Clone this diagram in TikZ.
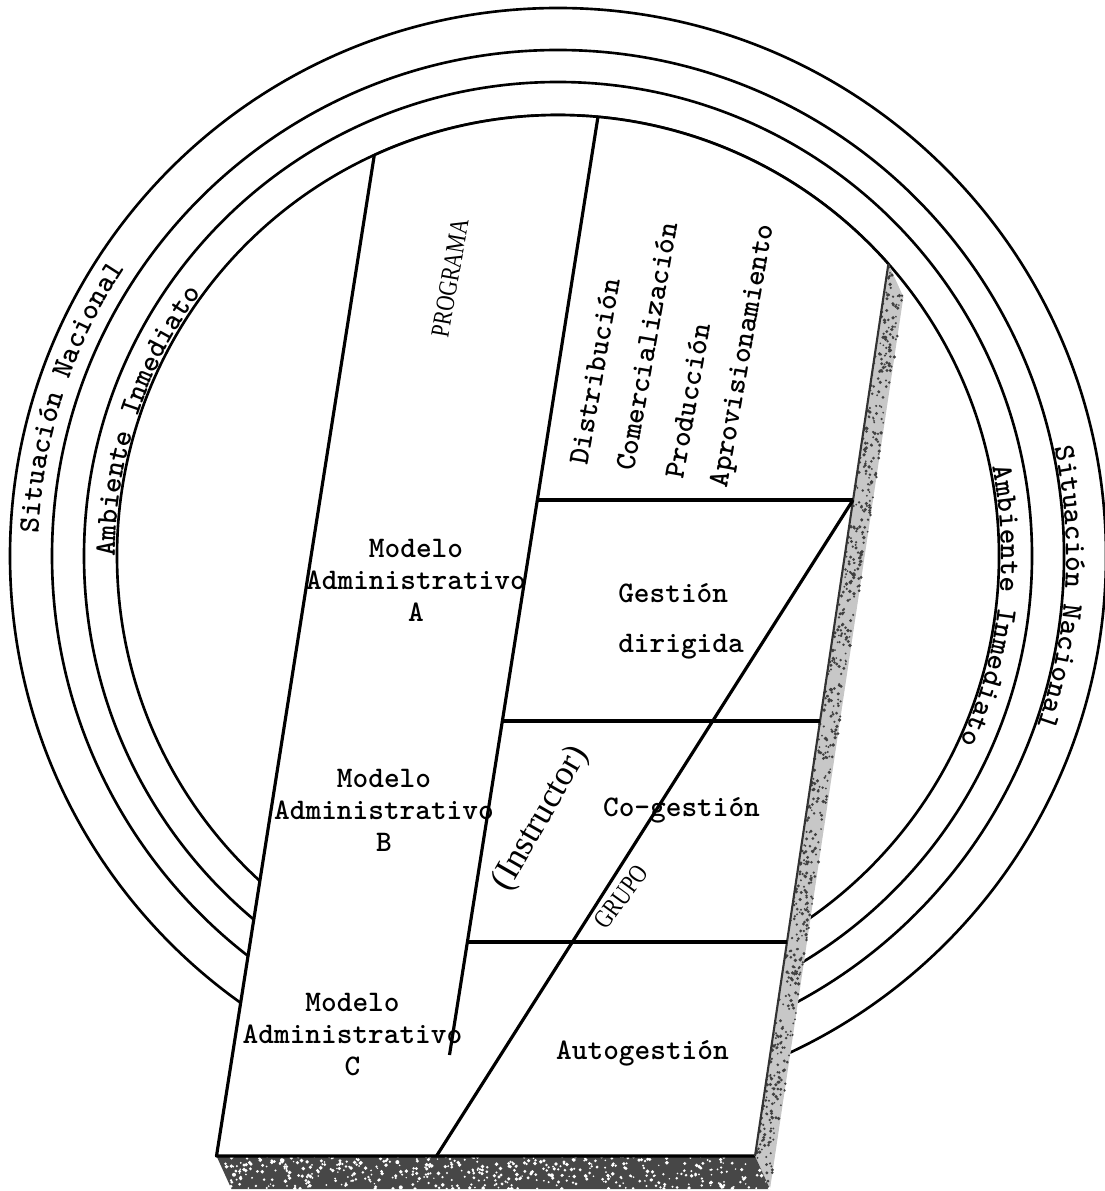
\documentclass[tikz,border=0pt]{standalone}
\usepackage{fontspec}
\setmainfont{Liberation Serif}
\usepackage{tikz}
\usetikzlibrary{calc,decorations.text}
\newcommand{\typer}{\ttfamily\bfseries\fontsize{17}{18.2}\selectfont}
\newcommand{\narrow}[1]{\scalebox{0.8}[1]{#1}}
\tikzset{
  ring/.style={line width=1.5pt},
  slab/.style={line width=1.8pt,line join=round},
  typed/.style={font=\typer,align=center,inner sep=0pt},
  slanted/.style={typed,rotate=80},
  printed/.style={font=\fontsize{15}{18}\selectfont,inner sep=0pt,rotate=#1},
  ring text/.style={decorate,decoration={text along path,text format delimiters={|}{|},
    text={|\typer|#1}}},
  side face/.style={fill=black!22},
  bottom face/.style={fill=black!72},
}

\begin{document}
\begin{tikzpicture}
  \useasboundingbox (0,0) rectangle (22.08,-23.82);
  \pgfmathsetseed{1971}
  \coordinate (C) at (11.16,-11.12);
  \coordinate (T1) at ($(C)+(114.62:8.82)$);
  \coordinate (T2) at ($(C)+(41.48:8.82)$);
  \coordinate (B1) at (4.33,-23.12);
  \coordinate (BR) at (15.10,-23.12);
  \coordinate (v) at (0.30,-0.66);
  \coordinate (P1) at ($(C)+(84.8:8.82)$);
  \coordinate (P2) at (8.99,-21.10);

  % surroundings
  \foreach \r in {8.82,9.48,10.12,10.96} \draw[ring] (C) circle (\r);
  \path[ring text=Situación Nacional] ($(C)+(177.5:10.40)$) arc[start angle=177.5,end angle=138,radius=10.40];
  \path[ring text=Ambiente Inmediato] ($(C)+(180.1:8.86)$) arc[start angle=180.1,end angle=138,radius=8.86];
  \path[ring text=Situación Nacional] ($(C)+(12.3:10.16)$) arc[start angle=12.3,end angle=-30,radius=10.16];
  \path[ring text=Ambiente Inmediato] ($(C)+(11.6:8.86)$) arc[start angle=11.6,end angle=-35,radius=8.86];

  % the board
  \fill[white] (B1) -- (T1) arc[start angle=114.62,end angle=41.48,radius=8.82]
    -- ($(T2)+(v)$) -- ($(BR)+(v)$) -- ($(B1)+(v)$) -- cycle;
  \draw[ring] (T1) arc[start angle=114.62,end angle=41.48,radius=8.82];
  \fill[side face] (T2) -- ($(T2)+(v)$) -- ($(BR)+(v)$) -- (BR) -- cycle;
  \fill[bottom face] (B1) -- (BR) -- ($(BR)+(v)$) -- ($(B1)+(v)$) -- cycle;
  % speckles
  \foreach \i in {1,...,700}
    \fill[black!75] ($(T2)!rnd!(BR)+rnd*(v)$) circle (0.018+0.02*rnd);
  \foreach \i in {1,...,500}
    \fill[white] ($(B1)!rnd!(BR)+rnd*(v)$) circle (0.015+0.025*rnd);
  \draw[slab] (T1) -- (B1) -- (BR);
  \draw[line width=1.2pt,black!80] (BR) -- (T2);
  \draw[slab] (P1) -- (P2);
  \draw[slab] (10.75,-10) -- (17.06,-10)
              (10.05,-14.42) -- (16.40,-14.42)
              (9.35,-18.84) -- (15.74,-18.84);
  \draw[slab] (17.06,-10) -- (8.73,-23.12);

  \node[printed=80] (prog) at (9.0,-5.56) {\narrow{PROGRAMA}};
  \node[slanted] (dist) at (11.89,-7.43) {Distribución};
  \node[slanted] (com) at (12.93,-6.93) {Comercialización};
  \node[slanted] (prod) at (13.75,-8.02) {Producción};
  \node[slanted] (aprov) at (14.88,-7.12) {Aprovisionamiento};

  \node[typed] (modA) at (8.32,-11.6) {Modelo\\Administrativo\\A};
  \node[typed] (modB) at (7.68,-16.2) {Modelo\\Administrativo\\B};
  \node[typed] (modC) at (7.05,-20.7) {Modelo\\Administrativo\\C};

  \node[typed,align=left] (dirig) at (13.62,-12.43) {Gestión\\[10pt]dirigida};
  \node[typed] (coges) at (13.63,-16.2) {Co-gestión};
  \node[typed] (autog) at (12.85,-21.06) {Autogestión};

  \node[font=\fontsize{20}{24}\selectfont,inner sep=0pt,rotate=60] (instr) at (10.82,-16.37) {(Instructor)};
  \node[printed=54] (grupo) at (12.42,-17.94) {\narrow{GRUPO}};
\end{tikzpicture}
\end{document}
